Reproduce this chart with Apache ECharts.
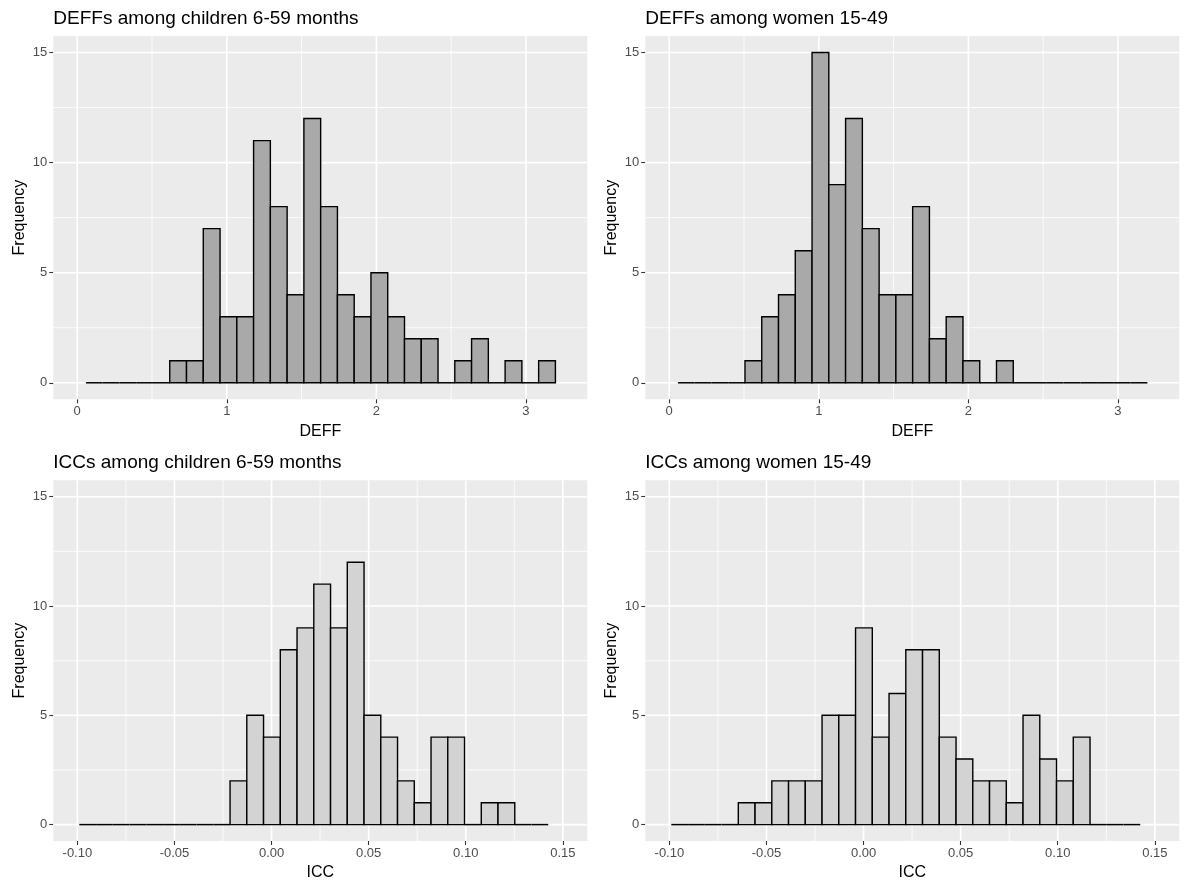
<!DOCTYPE html>
<html>
<head>
<meta charset="utf-8">
<script src="https://cdn.jsdelivr.net/npm/echarts@6/dist/echarts.min.js"></script>
<style>
html,body{margin:0;padding:0;background:#fff;}
#main{width:1184px;height:882px;}
</style>
</head>
<body>
<div id="main"></div>
<script>
// ---------- data ----------
const titles = [
  'DEFFs among children 6-59 months',
  'DEFFs among women 15-49',
  'ICCs among children 6-59 months',
  'ICCs among women 15-49'
];
const xNames = ['DEFF', 'DEFF', 'ICC', 'ICC'];

// histogram bins (28 bins each)
const DEFF_BIN_START = 0.058;
const DEFF_BIN_WIDTH = 0.1121;
const ICC_BIN_START = -0.099;
const ICC_BIN_WIDTH = 0.008625;

const deffChildren = [0,0,0,0,0,1,1,7,3,3,11,8,4,12,8,4,3,5,3,2,2,0,1,2,0,1,0,1];
const deffWomen    = [0,0,0,0,1,3,4,6,15,9,12,7,4,4,8,2,3,1,0,1,0,0,0,0,0,0,0,0];
const iccChildren  = [0,0,0,0,0,0,0,0,0,2,5,4,8,9,11,9,12,5,4,2,1,4,4,0,1,1,0,0];
const iccWomen     = [0,0,0,0,1,1,2,2,2,5,5,9,4,6,8,8,4,3,2,2,1,5,3,2,4,0,0,0];

const deffTicks = [0, 1, 2, 3];
const deffMinor = [0.5, 1.5, 2.5];
const iccTicks = [-0.10, -0.05, 0.00, 0.05, 0.10, 0.15];
const iccMinor = [-0.075, -0.025, 0.025, 0.075, 0.125];
const yTicks = [0, 5, 10, 15];
const yMinor = [2.5, 7.5, 12.5];

// ---------- helpers ----------
function binItems(counts, start, width) {
  return counts.map((c, i) => [start + i * width, start + (i + 1) * width, c]);
}

const panels = [
  { counts: deffChildren, start: DEFF_BIN_START, width: DEFF_BIN_WIDTH, ticks: deffTicks, minor: deffMinor, xmin: -0.16, xmax: 3.41, fill: '#A9A9A9', dec: 0 },
  { counts: deffWomen,    start: DEFF_BIN_START, width: DEFF_BIN_WIDTH, ticks: deffTicks, minor: deffMinor, xmin: -0.16, xmax: 3.41, fill: '#A9A9A9', dec: 0 },
  { counts: iccChildren,  start: ICC_BIN_START,  width: ICC_BIN_WIDTH,  ticks: iccTicks,  minor: iccMinor,  xmin: -0.1124, xmax: 0.1626, fill: '#D3D3D3', dec: 2 },
  { counts: iccWomen,     start: ICC_BIN_START,  width: ICC_BIN_WIDTH,  ticks: iccTicks,  minor: iccMinor,  xmin: -0.1124, xmax: 0.1626, fill: '#D3D3D3', dec: 2 }
];

const gridPos = [
  { left: 53.3,  top: 36,    width: 534, height: 363.3 },
  { left: 645.3, top: 36,    width: 534, height: 363.3 },
  { left: 53.3,  top: 480.3, width: 534, height: 362.4 },
  { left: 645.3, top: 480.3, width: 534, height: 362.4 }
];

const FONT = "'Liberation Sans', Arial, sans-serif";

const grids = [], xAxes = [], yAxes = [], series = [], titleOpts = [];

panels.forEach((p, k) => {
  const g = gridPos[k];
  grids.push({ left: g.left, top: g.top, width: g.width, height: g.height,
    show: true, backgroundColor: '#EBEBEB', borderWidth: 0, containLabel: false });
  titleOpts.push({ text: titles[k], left: g.left, top: g.top - 27, padding: 0,
    textStyle: { fontFamily: FONT, fontSize: 19, fontWeight: 'normal', color: '#000' } });

  xAxes.push({
    type: 'value', gridIndex: k, min: p.xmin, max: p.xmax, position: 'bottom',
    name: xNames[k], nameLocation: 'middle', nameGap: 24,
    nameTextStyle: { fontFamily: FONT, fontSize: 16, color: '#000' },
    axisLine: { show: false, onZero: false },
    axisTick: { show: true, length: 4, customValues: p.ticks, lineStyle: { color: '#333', width: 1.1 } },
    axisLabel: { show: true, margin: 6, customValues: p.ticks, fontFamily: FONT, fontSize: 13, color: '#4D4D4D',
      formatter: v => Number(v).toFixed(p.dec) },
    splitLine: { show: false }
  });
  yAxes.push({
    type: 'value', gridIndex: k, min: -0.75, max: 15.75, position: 'left',
    name: 'Frequency', nameLocation: 'middle', nameGap: 26, nameRotate: 90,
    nameTextStyle: { fontFamily: FONT, fontSize: 16, color: '#000' },
    axisLine: { show: false, onZero: false },
    axisTick: { show: true, length: 4, customValues: yTicks, lineStyle: { color: '#333', width: 1.1 } },
    axisLabel: { show: true, margin: 6, customValues: yTicks, fontFamily: FONT, fontSize: 13, color: '#4D4D4D' },
    splitLine: { show: false }
  });

  // gridlines: [value, dir(0=vertical,1=horizontal), major(1)/minor(0)]
  const gl = [];
  p.minor.forEach(v => gl.push([v, 0, 0]));
  yMinor.forEach(v => gl.push([v, 1, 0]));
  p.ticks.forEach(v => gl.push([v, 0, 1]));
  yTicks.forEach(v => gl.push([v, 1, 1]));
  series.push({
    type: 'custom', xAxisIndex: k, yAxisIndex: k, z: 1, silent: true,
    data: gl, clip: true,
    renderItem: function (params, api) {
      const cs = params.coordSys;
      const v = api.value(0), dir = api.value(1), major = api.value(2);
      let shape;
      if (dir === 0) {
        const x = api.coord([v, 0])[0];
        shape = { x1: x, y1: cs.y, x2: x, y2: cs.y + cs.height };
      } else {
        const y = api.coord([p.ticks[0], v])[1];
        shape = { x1: cs.x, y1: y, x2: cs.x + cs.width, y2: y };
      }
      return { type: 'line', shape: shape,
        style: { stroke: '#FFFFFF', lineWidth: major ? 1.6 : 0.8 } };
    }
  });

  // histogram bars
  series.push({
    type: 'custom', xAxisIndex: k, yAxisIndex: k, z: 3, silent: true,
    data: binItems(p.counts, p.start, p.width),
    encode: { x: [0, 1], y: 2 },
    renderItem: function (params, api) {
      const x0 = api.value(0), x1 = api.value(1), c = api.value(2);
      const a = api.coord([x0, c]);
      const b = api.coord([x1, 0]);
      if (c === 0) {
        return { type: 'line', shape: { x1: a[0], y1: b[1], x2: b[0], y2: b[1] },
          style: { stroke: '#000', lineWidth: 1.5 } };
      }
      return { type: 'rect',
        shape: { x: a[0], y: a[1], width: b[0] - a[0], height: b[1] - a[1] },
        style: { fill: p.fill, stroke: '#000', lineWidth: 1.4 } };
    }
  });
});

const chart = echarts.init(document.getElementById('main'), null, { renderer: 'canvas' });
chart.setOption({
  backgroundColor: '#FFFFFF',
  animation: false,
  title: titleOpts,
  grid: grids,
  xAxis: xAxes,
  yAxis: yAxes,
  series: series
});
</script>
</body>
</html>
